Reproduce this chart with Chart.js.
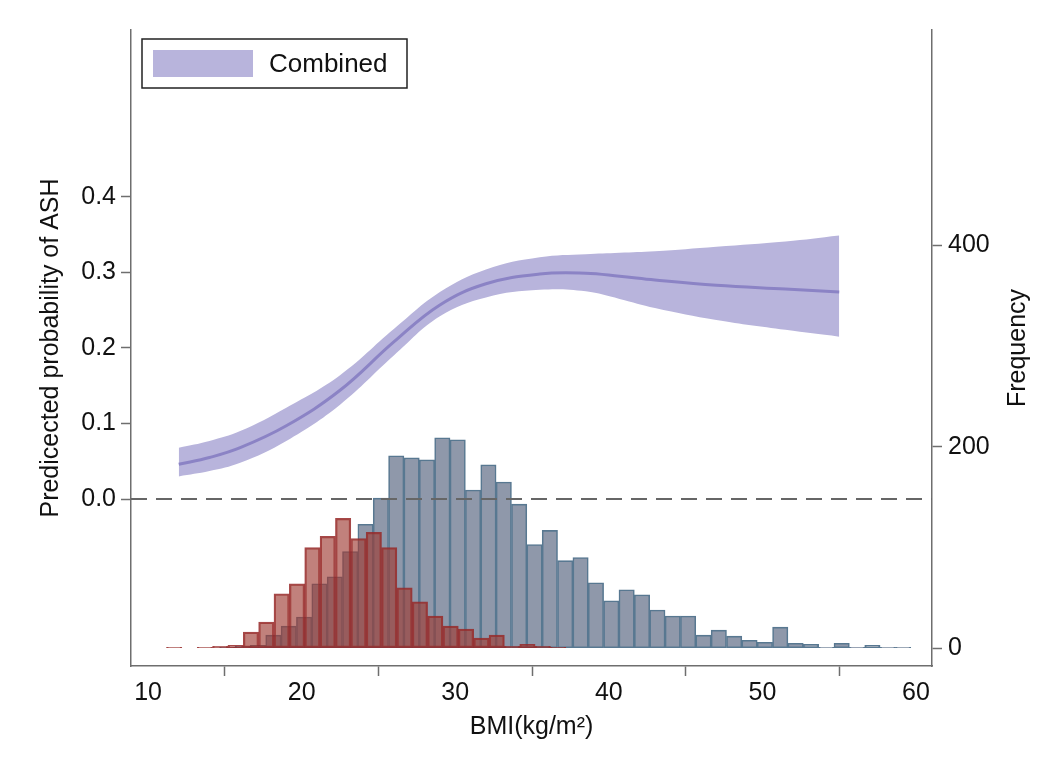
<!DOCTYPE html>
<html><head><meta charset="utf-8">
<script src="https://cdn.jsdelivr.net/npm/chart.js@4.4.1/dist/chart.umd.min.js"></script>
<style>html,body{margin:0;padding:0;background:#fff}canvas{display:block}</style>
</head><body>
<canvas id="c" width="1053" height="767"></canvas>
<script>
// ---- data ----
const bmiCurveX = [12, 14, 16, 19, 22.5, 26, 29, 32, 35.5, 38.5, 40.7, 43, 47, 51.5, 55];
const probFit   = [0.046, 0.055, 0.068, 0.097, 0.144, 0.208, 0.257, 0.285, 0.298, 0.299, 0.295, 0.290, 0.283, 0.278, 0.274];
const probUpper = [0.068, 0.077, 0.090, 0.121, 0.164, 0.225, 0.274, 0.304, 0.320, 0.324, 0.326, 0.328, 0.334, 0.341, 0.349];
const probLower = [0.030, 0.037, 0.048, 0.077, 0.125, 0.190, 0.242, 0.267, 0.277, 0.275, 0.265, 0.253, 0.237, 0.224, 0.215];

const binWidth = 1;
const redBinStart = 11.2;
const redCounts = [1,0,1,2,3,16,26,54,64,100,111,129,109,115,100,60,46,32,22,19,10,13,2,4,2,1];
const blueBinStart = 14.66;
const blueCounts = [1,2,3,13,22,31,64,71,96,123,149,191,189,187,209,207,157,182,165,143,103,117,87,90,65,47,58,53,38,32,32,13,18,12,8,6,21,5,4,1,5,1,3,1,1];

const xTicks = [10, 20, 30, 40, 50, 60];
const yTicks = [0, 0.1, 0.2, 0.3, 0.4];
const y2Ticks = [0, 200, 400];
const refLineValue = 0;

const legendLabel = 'Combined';
const xTitle = 'BMI(kg/m\u00B2)';
const yTitle = 'Predicected probability of ASH';
const y2Title = 'Frequency';

// ---- build ----
const toPts = (xs, ys) => xs.map((x, i) => ({x, y: ys[i]}));
const hist = (start, counts) => counts.map((c, i) => ({x: start + i * binWidth + binWidth / 2, y: c}));

const FONT = '"Liberation Sans", Arial, sans-serif';
const AXIS = '#6e6e6e';
const TXT = '#111';

const refLinePlugin = {
  id: 'refLine',
  afterDatasetsDraw(chart) {
    const {ctx, chartArea: a, scales} = chart;
    const y = scales.y.getPixelForValue(refLineValue);
    ctx.save();
    ctx.strokeStyle = '#666';
    ctx.lineWidth = 2;
    ctx.setLineDash([16, 9]);
    ctx.beginPath();
    ctx.moveTo(a.left, y);
    ctx.lineTo(a.right, y);
    ctx.stroke();
    ctx.restore();
  }
};

const boxLegendPlugin = {
  id: 'boxLegend',
  afterDraw(chart) {
    const ds = chart.data.datasets.find(d => d.label === legendLabel);
    const {ctx, chartArea: a} = chart;
    const bx = a.left + 11, by = a.top + 9, bw = 265, bh = 49;
    ctx.save();
    ctx.fillStyle = '#fff';
    ctx.fillRect(bx, by, bw, bh);
    ctx.strokeStyle = '#222';
    ctx.lineWidth = 1.5;
    ctx.strokeRect(bx, by, bw, bh);
    ctx.fillStyle = ds.backgroundColor;
    ctx.fillRect(bx + 11, by + 11, 100, 27);
    ctx.fillStyle = TXT;
    ctx.font = '26px ' + FONT;
    ctx.textBaseline = 'middle';
    ctx.fillText(ds.label, bx + 127, by + bh / 2 + 1);
    ctx.restore();
  }
};

const rightTitlePlugin = {
  id: 'rightTitle',
  afterDraw(chart) {
    const {ctx, chartArea: a, scales} = chart;
    const s = scales.y2;
    ctx.save();
    ctx.translate(s.left + 86, (a.top + a.bottom) / 2);
    ctx.rotate(-Math.PI / 2);
    ctx.fillStyle = TXT;
    ctx.font = '25px ' + FONT;
    ctx.textAlign = 'center';
    ctx.textBaseline = 'middle';
    ctx.fillText(y2Title, 0, 0);
    ctx.restore();
  }
};

const axisCommon = {
  border: {display: true, color: AXIS, width: 1.5},
  grid: {display: true, drawOnChartArea: false, drawTicks: true, tickLength: 10, tickColor: AXIS, tickWidth: 1.5, color: AXIS},
};

const curveStyle = {tension: 0.4, cubicInterpolationMode: 'default', pointRadius: 0, xAxisID: 'x', yAxisID: 'y'};

new Chart(document.getElementById('c'), {
  type: 'bar',
  data: {
    datasets: [
      {
        type: 'line', label: 'fit', data: toPts(bmiCurveX, probFit), ...curveStyle, order: -1,
        borderWidth: 3, borderColor: '#8b83c5', fill: false
      },
      {
        type: 'line', label: legendLabel, data: toPts(bmiCurveX, probUpper), ...curveStyle, order: 0,
        borderWidth: 0, borderColor: 'rgba(0,0,0,0)', backgroundColor: '#b8b4dc', fill: '+1'
      },
      {
        type: 'line', label: 'lower', data: toPts(bmiCurveX, probLower), ...curveStyle, order: 0,
        borderWidth: 0, borderColor: 'rgba(0,0,0,0)', backgroundColor: '#b8b4dc', fill: false
      },
      {
        type: 'bar', label: 'red', data: hist(redBinStart, redCounts),
        xAxisID: 'xr', yAxisID: 'y2', order: 1,
        backgroundColor: 'rgba(158,58,50,0.64)', borderColor: 'rgba(150,40,40,0.85)',
        borderWidth: 1.6, borderSkipped: false,
        barPercentage: 1, categoryPercentage: 1, grouped: false
      },
      {
        type: 'bar', label: 'blue', data: hist(blueBinStart, blueCounts),
        xAxisID: 'x', yAxisID: 'y2', order: 2,
        backgroundColor: '#8f98aa', borderColor: '#587891',
        borderWidth: 1.6, borderSkipped: false,
        barPercentage: 1, categoryPercentage: 1, grouped: false
      }
    ]
  },
  options: {
    responsive: false,
    animation: false,
    layout: {padding: {top: 30, left: 0, right: 0, bottom: 0}},
    plugins: {legend: {display: false}, tooltip: {enabled: false}},
    scales: {
      x: {
        type: 'linear', position: 'bottom', min: 8.89, max: 61.04, offset: false,
        ...axisCommon,
        afterBuildTicks: s => { s.ticks = xTicks.map(v => ({value: v})); },
        afterFit: s => { s.height = 101; },
        ticks: {color: TXT, font: {family: FONT, size: 25}, padding: 2, maxRotation: 0, autoSkip: false,
                callback: v => String(v)},
        title: {display: true, text: xTitle, color: TXT, font: {family: FONT, size: 25}, padding: {top: 0, bottom: 25}}
      },
      xr: {
        type: 'linear', position: 'bottom', min: 8.89, max: 61.04, offset: false, display: false,
        afterBuildTicks: s => { s.ticks = xTicks.map(v => ({value: v})); }
      },
      y: {
        type: 'linear', position: 'left', min: -0.221, max: 0.621,
        ...axisCommon,
        afterBuildTicks: s => { s.ticks = yTicks.map(v => ({value: v})); },
        afterFit: s => { s.width = 131; },
        ticks: {color: TXT, font: {family: FONT, size: 25}, padding: 5, callback: v => Number(v).toFixed(1)},
        title: {display: true, text: yTitle, color: TXT, font: {family: FONT, size: 25}, padding: {top: 36, bottom: 0}}
      },
      y2: {
        type: 'linear', position: 'right', min: -17.6, max: 613.7,
        ...axisCommon,
        afterBuildTicks: s => { s.ticks = y2Ticks.map(v => ({value: v})); },
        afterFit: s => { s.width = 121; },
        ticks: {color: TXT, font: {family: FONT, size: 25}, padding: 6, callback: v => String(v)}
      }
    }
  },
  plugins: [refLinePlugin, boxLegendPlugin, rightTitlePlugin]
});
</script>
</body></html>
